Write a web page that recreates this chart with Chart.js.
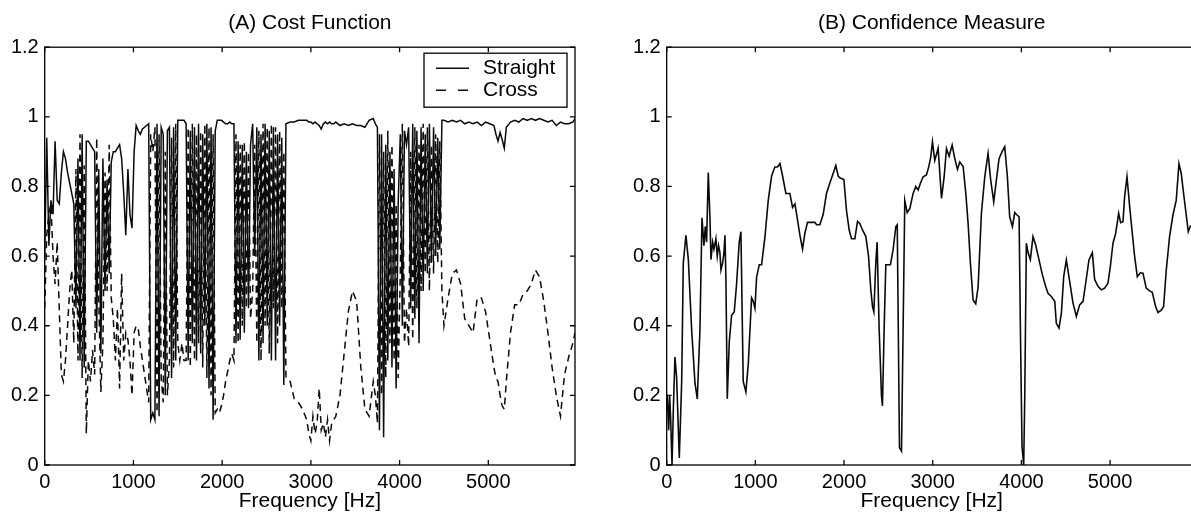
<!DOCTYPE html>
<html><head><meta charset="utf-8">
<script src="https://cdn.jsdelivr.net/npm/chart.js@4/dist/chart.umd.min.js"></script>
<style>
html,body{margin:0;padding:0;background:#fff;overflow:hidden;width:1191px;height:514px;}
#wrap{position:relative;width:1191px;height:514px;overflow:hidden;background:#fff;}
canvas{position:absolute;top:0;}
#cA{left:0;} #cB{left:600px;}
</style></head><body>
<div id="wrap"><canvas id="cA" width="600" height="514"></canvas><canvas id="cB" width="600" height="514"></canvas></div>
<script>
// ---- Panel A: Cost Function ----
const freqA = [0,23,47,70,94,117,141,164,188,211,234,258,281,305,328,352,375,398,422,445,469,492,516,539,563,586,609,633,656,680,703,727,750,773,797,820,844,867,891,914,938,961,984,1008,1031,1055,1078,1102,1125,1148,1172,
1195,1219,1242,1266,1289,1313,1336,1359,1383,1406,1430,1453,1477,1500,1523,1547,1570,1594,1617,1641,1664,1688,1711,1734,1758,1781,1805,1828,1852,1875,1898,1922,1945,1969,1992,2016,2039,2063,2086,2109,2133,2156,2180,2203,2227,2250,2273,2297,2320,2344,2367,2391,2414,2438,2461,2484,2508,2531,2555,2578,2602,2625,2648,2672,2695,2719,
2766,2813,2859,2906,2953,2977,3000,3023,3047,3070,3094,3117,3141,3164,3188,3211,3234,3258,3281,3328,3375,3422,3469,3516,3563,3609,3656,3703,3727,
3750,3773,3797,3820,3844,3867,3891,3914,3938,3961,3984,4008,4031,4055,4078,4102,4125,4148,4172,4195,4219,4242,4266,4289,4313,4336,4359,4383,4406,4430,4453,4477,
4500,4547,4594,4641,4688,4734,4781,4828,4875,4922,4969,5016,5063,5086,5109,5133,5156,5180,5203,5250,5297,5344,5391,5438,5484,5531,5578,5625,5672,5719,5766,5813,5859,5906,5953,5977];
const straight = [0.6,0.94,0.63,0.76,0.72,0.93,0.76,0.75,0.84,0.9,0.88,0.84,0.81,0.78,0.75,0.45,0.88,0.3,0.95,0.28,0.93,0.93,0.92,0.91,0.9,0.38,0.85,0.32,0.88,0.5,0.82,0.55,0.87,0.9,0.9,0.91,0.92,0.88,0.78,0.66,0.85,0.72,0.68,0.9,0.975,0.96,0.95,0.965,0.97,0.975,0.98,
0.13,0.15,0.13,0.98,0.14,0.97,0.95,0.2,0.96,0.97,0.25,0.97,0.3,0.99,0.99,0.99,0.99,0.98,0.3,0.96,0.35,0.97,0.3,0.98,0.32,0.95,0.4,0.98,0.22,0.97,0.13,0.96,0.99,0.99,0.99,0.985,0.98,0.98,0.985,0.98,0.98,0.35,0.93,0.36,0.92,0.38,0.9,0.45,0.92,0.98,0.6,0.97,0.3,0.95,0.35,0.98,0.4,0.96,0.3,0.97,0.3,0.95,0.4,0.94,0.23,0.98,
0.985,0.985,0.99,0.99,0.99,0.985,0.985,0.98,0.985,0.98,0.975,0.965,0.98,0.985,0.98,0.985,0.98,0.98,0.985,0.975,0.98,0.975,0.98,0.975,0.975,0.97,0.99,0.995,0.98,
0.97,0.1,0.95,0.08,0.92,0.3,0.9,0.28,0.85,0.22,0.75,0.95,0.4,0.96,0.92,0.97,0.45,0.98,0.42,0.96,0.35,0.97,0.5,0.95,0.55,0.98,0.58,0.97,0.6,0.94,0.62,0.99,
0.99,0.985,0.99,0.985,0.99,0.98,0.985,0.98,0.985,0.975,0.985,0.98,0.975,0.95,0.93,0.955,0.935,0.91,0.97,0.985,0.99,0.985,0.995,0.99,0.995,0.99,0.995,0.99,0.985,0.99,0.975,0.985,0.98,0.98,0.985,0.995];
const cross = [0.45,0.66,0.72,0.75,0.6,0.52,0.64,0.45,0.26,0.24,0.3,0.4,0.5,0.56,0.35,0.85,0.3,0.95,0.25,0.86,0.09,0.3,0.24,0.33,0.26,0.94,0.48,0.21,0.35,0.84,0.5,0.92,0.48,0.42,0.3,0.45,0.22,0.55,0.3,0.38,0.36,0.3,0.2,0.38,0.4,0.39,0.34,0.3,0.26,0.22,0.18,
0.95,0.9,0.97,0.15,0.95,0.25,0.18,0.9,0.2,0.3,0.94,0.28,0.98,0.35,0.3,0.35,0.3,0.3,0.97,0.28,0.98,0.3,0.95,0.35,0.96,0.28,0.98,0.25,0.97,0.2,0.95,0.15,0.16,0.15,0.17,0.2,0.24,0.27,0.3,0.32,0.3,0.95,0.35,0.92,0.4,0.93,0.45,0.9,0.42,0.5,0.92,0.35,0.96,0.3,0.98,0.4,0.97,0.32,0.98,0.45,0.97,0.35,0.96,0.45,0.9,0.25,
0.24,0.19,0.18,0.16,0.13,0.09,0.07,0.14,0.09,0.12,0.22,0.1,0.12,0.08,0.13,0.07,0.12,0.13,0.14,0.2,0.32,0.44,0.5,0.47,0.28,0.16,0.14,0.24,0.2,
0.12,0.95,0.2,0.9,0.25,0.96,0.35,0.92,0.3,0.75,0.25,0.55,0.98,0.35,0.45,0.34,0.9,0.36,0.97,0.45,0.92,0.5,0.98,0.55,0.97,0.5,0.92,0.55,0.95,0.58,0.93,0.5,
0.4,0.48,0.55,0.56,0.52,0.42,0.4,0.38,0.48,0.48,0.44,0.36,0.28,0.25,0.24,0.2,0.17,0.16,0.24,0.38,0.46,0.46,0.49,0.5,0.52,0.56,0.54,0.47,0.38,0.28,0.2,0.14,0.26,0.31,0.35,0.38];

// ---- Panel B: Confidence Measure ----
const freqB = [0,7,22,33,45,60,75,93,112,142,169,187,217,244,281,319,345,375,398,420,435,450,469,488,499,518,533,555,570,585,600,612,630,646,657,668,683,706,732,762,788,818,837,863,893,920,957,976,995,1014,1044,1070,1108,1145,1183,1220,1250,1277,1307,1344,1389,1419,1446,1472,1502,1532,1558,1588,1633,1671,1690,1727,1765,1802,1840,1877,1907,1934,1953,1998,2028,2058,2084,2122,2152,2178,2208,2246,2276,2302,2321,2336,2358,2373,2396,2422,2433,2452,2471,2497,2523,2554,2584,2600,2625,2648,2685,2712,2742,2779,2809,2836,2862,2892,2929,2956,2978,2997,3023,3061,3099,3129,3155,3185,3219,3249,3279,3305,3343,3373,3399,3425,3455,3485,3512,3549,3587,3624,3654,3688,3718,3748,3782,3812,3842,3868,3899,3925,3951,3974,3989,4007,4026,4038,4056,4075,4101,4131,4161,4199,4237,4274,4300,4338,4376,4394,4424,4451,4477,4507,4545,4582,4620,4657,4695,4725,4762,4800,4826,4864,4901,4939,4976,5003,5033,5063,5097,5119,5146,5164,5191,5221,5247,5277,5307,5341,5371,5408,5446,5476,5514,5540,5577,5604,5634,5671,5709,5746,5777,5803,5829,5859,5882,5904,5930,5977];
const confidence = [0.2,0.2,0.1,0.2,0.13,0.0,0.16,0.31,0.25,0.02,0.24,0.58,0.66,0.59,0.39,0.235,0.19,0.39,0.71,0.63,0.685,0.64,0.84,0.71,0.59,0.64,0.62,0.65,0.6,0.63,0.61,0.56,0.58,0.61,0.66,0.53,0.19,0.355,0.43,0.44,0.52,0.64,0.67,0.24,0.21,0.29,0.48,0.47,0.45,0.54,0.575,0.575,0.655,0.76,0.83,0.856,0.856,0.866,0.83,0.78,0.78,0.74,0.75,0.71,0.66,0.62,0.665,0.697,0.697,0.697,0.69,0.69,0.72,0.78,0.81,0.837,0.86,0.83,0.825,0.82,0.73,0.675,0.65,0.65,0.7,0.694,0.675,0.656,0.6,0.503,0.455,0.44,0.58,0.64,0.39,0.2,0.17,0.39,0.575,0.575,0.575,0.62,0.685,0.69,0.05,0.04,0.76,0.725,0.737,0.78,0.8,0.79,0.81,0.828,0.833,0.857,0.885,0.928,0.875,0.91,0.766,0.828,0.909,0.887,0.919,0.88,0.849,0.87,0.857,0.78,0.694,0.58,0.474,0.463,0.512,0.723,0.828,0.895,0.818,0.756,0.818,0.88,0.9,0.914,0.828,0.713,0.685,0.725,0.718,0.713,0.388,0.054,0.0,0.197,0.637,0.61,0.59,0.656,0.632,0.589,0.546,0.513,0.493,0.484,0.47,0.407,0.393,0.436,0.541,0.589,0.527,0.465,0.427,0.46,0.47,0.522,0.589,0.61,0.533,0.513,0.503,0.508,0.522,0.57,0.637,0.665,0.723,0.696,0.699,0.77,0.828,0.742,0.675,0.599,0.541,0.552,0.551,0.508,0.5,0.496,0.455,0.438,0.445,0.455,0.56,0.656,0.718,0.76,0.866,0.837,0.78,0.718,0.67,0.685,0.69,0.67];

const xTicks = [0,1000,2000,3000,4000,5000];
const yTicks = [0,0.2,0.4,0.6,0.8,1,1.2];
const xMax = 5977;
const titleA = '(A) Cost Function';
const titleB = '(B) Confidence Measure';
const xLabel = 'Frequency [Hz]';

const FONT = '"Liberation Sans", Arial, Helvetica, sans-serif';
const INK = '#0a0a0a';

const framePlugin = {
  id: 'frame',
  afterDatasetsDraw(chart) {
    const {ctx, chartArea: a, scales: {x, y}} = chart;
    ctx.save();
    ctx.strokeStyle = '#000';
    ctx.lineWidth = 1.3;
    ctx.setLineDash([]);
    ctx.strokeRect(a.left, a.top, a.right - a.left, a.bottom - a.top);
    const L = 5;
    ctx.beginPath();
    xTicks.forEach(v => { const p = x.getPixelForValue(v);
      ctx.moveTo(p, a.bottom); ctx.lineTo(p, a.bottom - L);
      ctx.moveTo(p, a.top); ctx.lineTo(p, a.top + L); });
    yTicks.forEach(v => { const p = y.getPixelForValue(v);
      ctx.moveTo(a.left, p); ctx.lineTo(a.left + L, p);
      ctx.moveTo(a.right, p); ctx.lineTo(a.right - L, p); });
    ctx.stroke();
    ctx.restore();
  }
};

const boxLegendPlugin = {
  id: 'boxLegend',
  afterDraw(chart) {
    const {ctx, chartArea: a} = chart;
    const w = 143, h = 54;
    const left = a.right - 8 - w, top = a.top + 6;
    ctx.save();
    ctx.fillStyle = '#fff';
    ctx.fillRect(left, top, w, h);
    ctx.strokeStyle = '#000'; ctx.lineWidth = 1.3; ctx.setLineDash([]);
    ctx.strokeRect(left, top, w, h);
    ctx.font = '21px ' + FONT;
    ctx.textBaseline = 'middle';
    ctx.textAlign = 'left';
    chart.data.datasets.forEach((ds, i) => {
      const cy = top + 15 + i * 22;
      ctx.strokeStyle = ds.borderColor; ctx.lineWidth = ds.borderWidth;
      ctx.setLineDash(ds.borderDash && ds.borderDash.length ? [10, 12] : []);
      ctx.beginPath(); ctx.moveTo(left + 12, cy); ctx.lineTo(left + 45, cy); ctx.stroke();
      ctx.setLineDash([]);
      ctx.fillStyle = '#000';
      ctx.fillText(ds.label, left + 59, cy);
    });
    ctx.restore();
  }
};

function opts(title, axisW, padRight) {
  return {
    responsive: false, animation: false, devicePixelRatio: 1,
    layout: {padding: {left: 0, right: padRight, top: 0, bottom: 0}},
    elements: {point: {radius: 0}, line: {tension: 0}},
    plugins: {
      legend: {display: false}, tooltip: {enabled: false},
      title: {display: true, text: title, fullSize: false, color: '#000',
        font: {family: FONT, size: 21, weight: 'normal'}, padding: {top: 11, bottom: 11}}
    },
    scales: {
      x: {type: 'linear', min: 0, max: xMax,
        afterFit(s) { s.height = 49; },
        afterBuildTicks(s) { s.ticks = xTicks.map(v => ({value: v})); },
        grid: {display: false, drawTicks: false}, border: {display: false},
        ticks: {color: '#000', font: {family: FONT, size: 20}, padding: 5, maxRotation: 0, autoSkip: false,
          callback: v => String(v)},
        title: {display: true, text: xLabel, color: '#000', font: {family: FONT, size: 21}, padding: {top: 0, bottom: 0}}},
      y: {type: 'linear', min: 0, max: 1.2,
        afterFit(s) { s.width = axisW; },
        afterBuildTicks(s) { s.ticks = yTicks.map(v => ({value: v})); },
        grid: {display: false, drawTicks: false}, border: {display: false},
        ticks: {color: '#000', font: {family: FONT, size: 20}, padding: 6, callback: v => String(v)}}
    }
  };
}

new Chart(document.getElementById('cA'), {
  type: 'line',
  data: {datasets: [
    {label: 'Straight', data: freqA.map((f, i) => ({x: f, y: straight[i]})), borderColor: INK, borderWidth: 1.5, borderDash: [], fill: false},
    {label: 'Cross', data: freqA.map((f, i) => ({x: f, y: cross[i]})), borderColor: INK, borderWidth: 1.5, borderDash: [7, 5], fill: false}
  ]},
  options: opts(titleA, 44.7, 25),
  plugins: [framePlugin, boxLegendPlugin]
});

new Chart(document.getElementById('cB'), {
  type: 'line',
  data: {datasets: [
    {label: 'Confidence', data: freqB.map((f, i) => ({x: f, y: confidence[i]})), borderColor: INK, borderWidth: 1.6, fill: false}
  ]},
  options: opts(titleB, 66.7, 3.3),
  plugins: [framePlugin]
});
</script>
</body></html>
